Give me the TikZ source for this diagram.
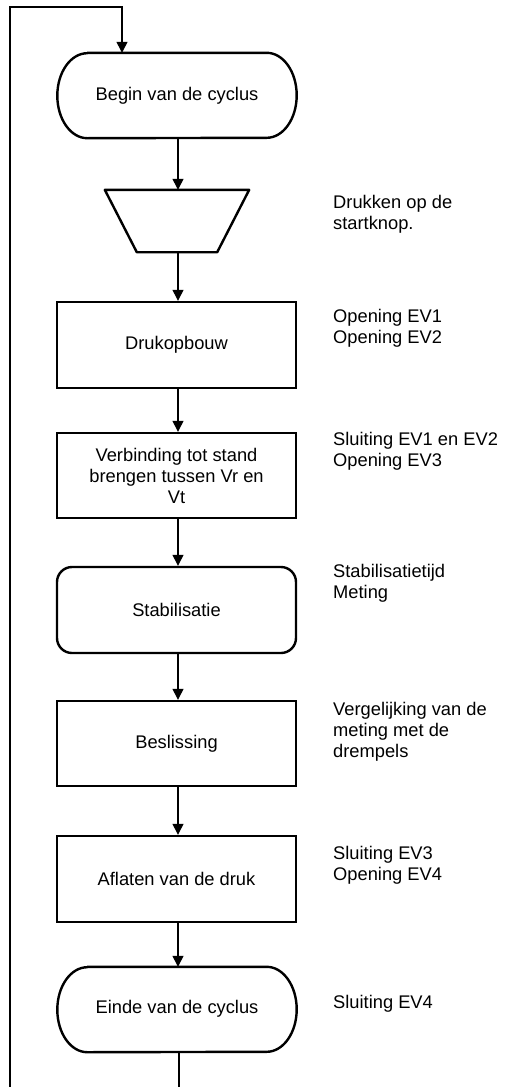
\documentclass[tikz,border=0pt]{standalone}
\usepackage{fontspec}
\setmainfont{Liberation Sans}
\usetikzlibrary{arrows.meta}
\tikzset{
  txt/.style={font=\fontsize{18.3}{21}\selectfont, align=center, inner sep=0pt},
  boxnode/.style={txt, draw, line width=2.4pt, minimum width=239pt, minimum height=86pt},
  shapeonly/.style={txt, draw=none, minimum width=239pt, minimum height=86pt},
  outline/.style={line width=2.4pt, line join=round},
  side/.style={font=\fontsize{18.3}{21}\selectfont, align=left, anchor=west, inner sep=0pt},
  arr/.style={line width=1.3pt, -{Triangle[length=11pt,width=11pt]}},
  plain/.style={line width=1.3pt}
}
\begin{document}
\begin{tikzpicture}[x=1pt,y=-1pt]
\useasboundingbox (0,0) rectangle (506,1087);
% nodes
\node[shapeonly, minimum height=85pt] (begin) at (177,95.5) {Begin van de cyclus};
\draw[outline] ([xshift=30pt]begin.north west) -- ([xshift=-30pt]begin.north east)
  arc[start angle=90,end angle=-90,x radius=30pt,y radius=42.5pt]
  -- ([xshift=30pt]begin.south west)
  arc[start angle=270,end angle=90,x radius=30pt,y radius=42.5pt] -- cycle;
\node[txt, draw=none, minimum width=144pt, minimum height=62pt] (trap) at (177,221) {};
\draw[outline] (trap.north west) -- (trap.north east) -- ([xshift=-32pt]trap.south east)
  -- ([xshift=32pt]trap.south west) -- cycle;
\node[boxnode] (druk) at (176.5,345) {Drukopbouw};
\node[boxnode, minimum height=85pt] (verb) at (176.5,475.5) {Verbinding tot stand\\brengen tussen Vr en\\Vt};
\node[boxnode, rounded corners=15pt] (stab) at (176.5,610) {Stabilisatie};
\node[boxnode, minimum height=85pt] (besl) at (176.5,743.5) {Beslissing};
\node[boxnode] (afl) at (176.5,879) {Aflaten van de druk};
\node[shapeonly, minimum height=85pt] (einde) at (177,1009.5) {\raisebox{5pt}{Einde van de cyclus}};
\draw[outline] ([xshift=30pt]einde.north west) -- ([xshift=-30pt]einde.north east)
  arc[start angle=90,end angle=-90,x radius=30pt,y radius=42.5pt]
  -- ([xshift=30pt]einde.south west)
  arc[start angle=270,end angle=90,x radius=30pt,y radius=42.5pt] -- cycle;
% side texts
\node[side] (t1) at (333,214) {Drukken op de\\startknop.};
\node[side] (t2) at (333,328) {Opening EV1\\Opening EV2};
\node[side] (t3) at (333,451) {Sluiting EV1 en EV2\\Opening EV3};
\node[side] (t4) at (333,583) {Stabilisatietijd\\Meting};
\node[side] (t5) at (333,732) {Vergelijking van de\\meting met de\\drempels};
\node[side] (t6) at (333,865.5) {Sluiting EV3\\Opening EV4};
\node[side] (t7) at (333,1004) {Sluiting EV4};
% connectors
\coordinate (lb) at (10,1087);
\coordinate (lt) at (10,7);
\coordinate (bin) at ([xshift=-55pt]begin.north);
\draw[arr] (lb) -- (lt) -| (bin);
\draw[arr] ([xshift=1pt]begin.south) -- ([xshift=1pt]trap.north);
\draw[arr] ([xshift=1pt]trap.south) -- ([xshift=1.5pt]druk.north);
\draw[arr] ([xshift=1.5pt]druk.south) -- ([xshift=1.5pt]verb.north);
\draw[arr] ([xshift=1.5pt]verb.south) -- ([xshift=1.5pt]stab.north);
\draw[arr] ([xshift=1.5pt]stab.south) -- ([xshift=1.5pt]besl.north);
\draw[arr] ([xshift=1.5pt]besl.south) -- ([xshift=1.5pt]afl.north);
\draw[arr] ([xshift=1.5pt]afl.south) -- ([xshift=1pt]einde.north);
\draw[plain] ([xshift=2pt]einde.south) -- ([xshift=2pt]einde.south |- lb);
\end{tikzpicture}
\end{document}
